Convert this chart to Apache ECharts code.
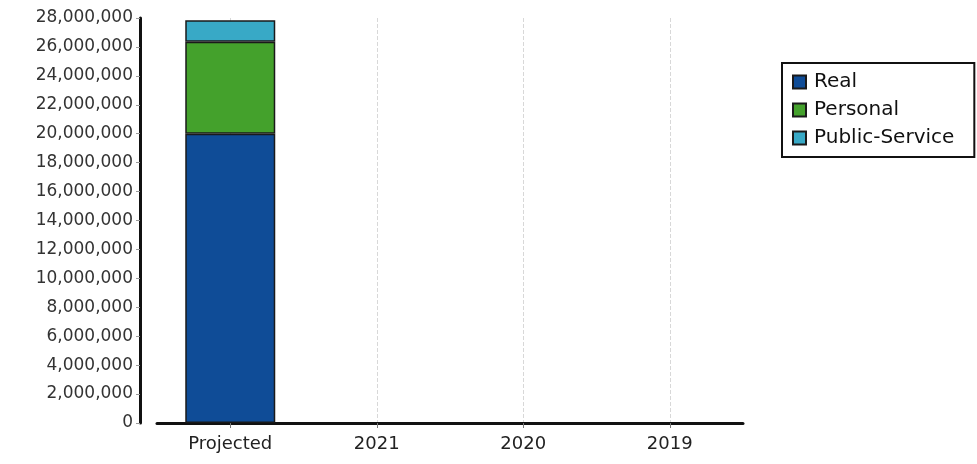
<!DOCTYPE html>
<html><head><meta charset="utf-8">
<script src="https://cdn.jsdelivr.net/npm/echarts@6/dist/echarts.min.js"></script>
<style>html,body{margin:0;padding:0;background:#fff}#c{width:977px;height:464px}</style>
</head><body><div id="c"></div>
<script>
var categories = ['Projected', '2021', '2020', '2019'];
var realValues = [20000000, null, null, null];
var personalValues = [6350000, null, null, null];
var publicServiceValues = [1500000, null, null, null];
var yTicks = {min: 0, max: 28000000, interval: 2000000};

var chart = echarts.init(document.getElementById('c'));
function fmt(v){ return v.toString().replace(/\B(?=(\d{3})+(?!\d))/g, ','); }
var barStyle = function(c){ return {color: c, borderColor: '#1a1a1a', borderWidth: 1.5}; };
var halfSteps = [];
for (var i = 0; i <= categories.length * 2; i++) halfSteps.push('');
chart.setOption({
  animation: false,
  backgroundColor: '#fff',
  grid: {left: 157, right: 234, top: 18, bottom: 41},
  legend: {
    orient: 'vertical', left: 782, top: 63,
    padding: [9, 20, 9, 10], itemGap: 8,
    borderColor: '#111', borderWidth: 2,
    itemWidth: 13, itemHeight: 13, icon: 'rect',
    textStyle: {fontFamily: 'DejaVu Sans', fontSize: 20, color: '#111', padding: [0,0,0,3]},
    data: ['Real', 'Personal', 'Public-Service']
  },
  xAxis: [{
    type: 'category', data: categories,
    axisLine: {lineStyle: {color: '#111', width: 3}},
    axisTick: {show: true, alignWithLabel: true, length: 5, lineStyle: {color: '#777'}},
    axisLabel: {fontFamily: 'DejaVu Sans', fontSize: 18, color: '#222', margin: 12},
    splitLine: {show: false}
  }, {
    type: 'category', data: halfSteps, boundaryGap: false, position: 'bottom',
    axisLine: {show: false}, axisTick: {show: false}, axisLabel: {show: false},
    splitLine: {show: true, interval: function(i){ return i % 2 === 1; }, lineStyle: {color: '#d8d8d8', type: 'dashed'}}
  }],
  yAxis: {
    type: 'value', min: yTicks.min, max: yTicks.max, interval: yTicks.interval,
    offset: 17,
    axisLine: {show: true, lineStyle: {color: '#111', width: 3}},
    axisTick: {show: true, length: 4, lineStyle: {color: '#999'}},
    axisLabel: {fontFamily: 'DejaVu Sans', fontSize: 17, color: '#333', margin: 7, formatter: fmt},
    splitLine: {show: false}
  },
  series: [
    {name: 'Real', type: 'bar', stack: 't', barWidth: 90, data: realValues, itemStyle: barStyle('#0f4c97')},
    {name: 'Personal', type: 'bar', stack: 't', barWidth: 90, data: personalValues, itemStyle: barStyle('#44a12c')},
    {name: 'Public-Service', type: 'bar', stack: 't', barWidth: 90, data: publicServiceValues, itemStyle: barStyle('#38a9c6')}
  ]
});
</script></body></html>
